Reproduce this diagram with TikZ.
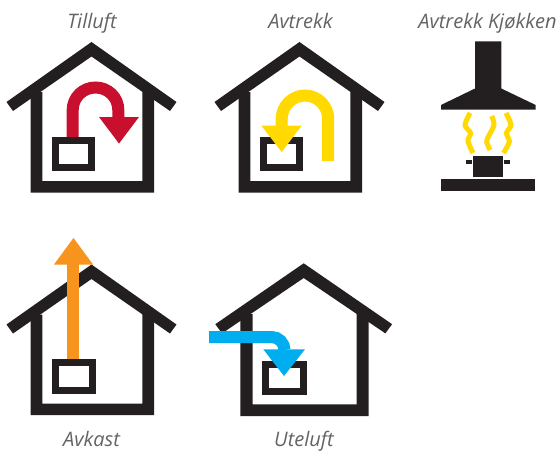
\documentclass[tikz,border=0pt]{standalone}
\usepackage{fontspec}
\setmainfont{Open Sans}
\definecolor{hk}{HTML}{231F20}
\definecolor{lbl}{HTML}{636466}
\definecolor{redc}{HTML}{C8102E}
\definecolor{yelc}{HTML}{FFD900}
\definecolor{orac}{HTML}{F7941D}
\definecolor{bluc}{HTML}{00AEEF}
\tikzset{
  house/.pic={
    \fill[hk] (-85,60) -- (0,0) -- (85,60) -- (78.5,69) -- (0,14.5) -- (-78.5,69) -- cycle;
    \fill[hk] (-60.8,50) -- (-60.8,150.5) -- (62.5,150.5) -- (62.5,50) -- (50.8,42) -- (50.8,139) -- (-49.2,139) -- (-49.2,50) -- cycle;
  },
  lbl/.style={font=\itshape\fontsize{20}{22}\selectfont,text=lbl,inner sep=0pt,anchor=base},
  flow/.style={line width=12pt,line cap=butt},
  wave/.style={draw=yelc,line width=5pt,line cap=butt},
  unit/.style={draw=hk,line width=7pt,fill=white}
}
\begin{document}
\begin{tikzpicture}[x=1pt,y=-1pt]
\useasboundingbox (0,0) rectangle (559,451);
\fill[white] (0,0) rectangle (559,451);
% Tilluft
\pic at (91.5,42) {house};
\draw[flow,redc] (72.7,140) -- (72.7,110) .. controls (72.7,97.4) and (82.9,87.5) .. (95.5,87.5) .. controls (108.1,87.5) and (118.3,97.4) .. (118.3,110) -- (118.3,118);
\fill[redc] (99,117) -- (139,117) -- (119,143.5) -- cycle;
\draw[unit] (55.5,140.5) rectangle (91.5,167.5);
\node[lbl] (t1) at (92,28.5) {Tilluft};
% Avtrekk
\pic at (299.5,42) {house};
\draw[unit] (263.2,140.5) rectangle (299.5,167.5);
\draw[flow,yelc] (328.2,161) -- (328.2,119) .. controls (328.2,106.1) and (317.8,95.5) .. (305,95.5) .. controls (292.2,95.5) and (281.7,106.1) .. (281.7,119) -- (281.7,126);
\fill[yelc] (261.3,125.5) -- (301.7,125.5) -- (281.7,152) -- cycle;
\node[lbl] (t2) at (300.5,28.5) {Avtrekk};
% Avtrekk Kjokken
\node[lbl] (t3) at (487.5,28.5) {Avtrekk Kjøkken};
\fill[hk] (475,41.3) -- (501.3,41.3) -- (501.3,88.5) -- (535.7,105) -- (535.7,109.5) -- (441,109.5) -- (441,105) -- (475,88.5) -- cycle;
\draw[wave] plot[smooth] coordinates {(470,113) (465,125) (470.5,133) (468,141) (473,153)};
\draw[wave] plot[smooth] coordinates {(491.7,116) (494,125) (488.3,136.7) (486.7,142) (490,150)};
\draw[wave] plot[smooth] coordinates {(506,113) (511,125) (506.5,133) (509.3,141.7) (503.5,153)};
\fill[hk] (473,156) rectangle (503,177);
\fill[hk] (466,160) rectangle (472,164);
\fill[hk] (504,160) rectangle (510,164);
\fill[hk] (441,179) rectangle (535,191);
% Avkast
\pic at (91.5,264.5) {house};
\fill[orac] (67.3,360) rectangle (79.3,260);
\fill[orac] (54,264.5) -- (93,264.5) -- (73.5,238) -- cycle;
\draw[unit] (55.2,362.8) rectangle (92,390.2);
\node[lbl] (t4) at (91.5,446.5) {Avkast};
% Uteluft
\pic[xscale=1.04,yscale=1.015] at (303.7,263.3) {house};
\draw[unit] (265.8,364.2) rectangle (303.8,391.5);
\draw[flow,bluc] (209,337) -- (271.5,337) .. controls (278.7,337) and (284.5,342.8) .. (284.5,350);
\fill[bluc] (263.3,349.3) -- (305,349.3) -- (284,376) -- cycle;
\node[lbl] (t5) at (304,446.5) {Uteluft};
\end{tikzpicture}
\end{document}
